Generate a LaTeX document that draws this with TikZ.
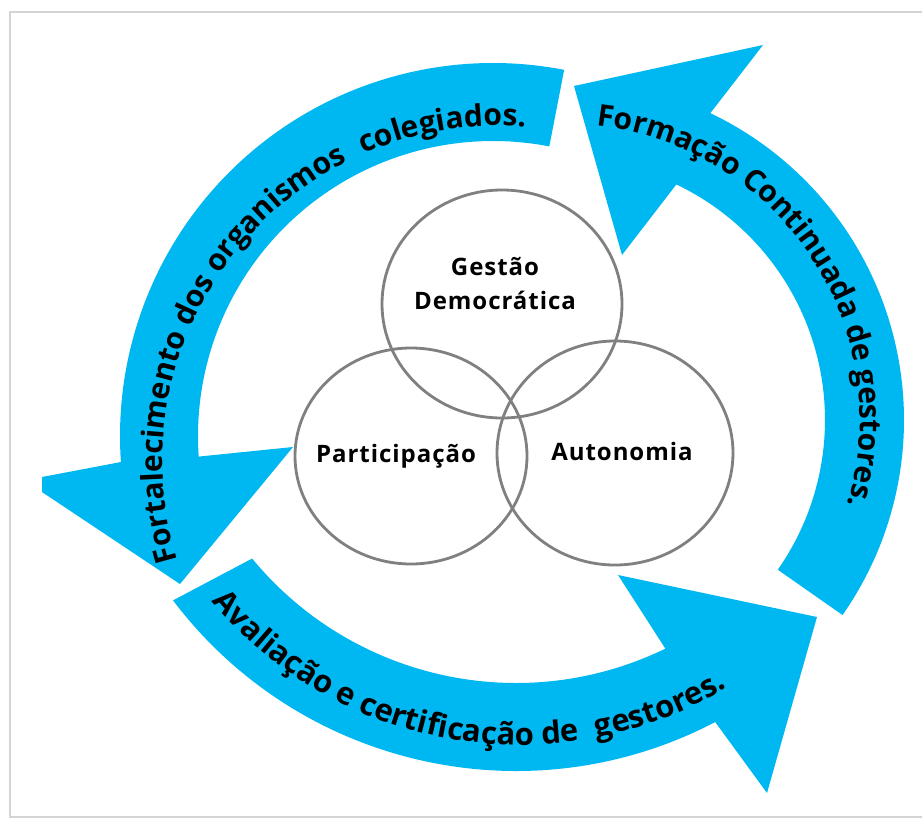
\documentclass[tikz,border=0pt]{standalone}
\usepackage{fontspec}
\setmainfont{Open Sans}
\usetikzlibrary{decorations.text,shapes.geometric}
\definecolor{arrowblue}{RGB}{0,184,241}
\definecolor{ringgray}{RGB}{128,128,128}
\definecolor{framegray}{RGB}{212,212,212}
\newcommand\arwfont{\bfseries\fontsize{30}{31}\selectfont}
\newcommand\arwfontb{\bfseries\fontsize{31}{32}\selectfont}
\newcommand\lblfont{\bfseries\fontsize{24}{34}\selectfont\addfontfeatures{LetterSpace=4}}
\begin{document}
\begin{tikzpicture}[x=1pt,y=-1pt,
  band/.style={fill=arrowblue,draw=none},
  ring/.style={draw=ringgray,line width=2.8pt,ellipse,inner sep=0pt},
  lbl/.style={font=\lblfont,align=center,inner sep=0pt},
  arwtext/.style={decorate,decoration={text along path,text align=center,text={|\arwfont|#1}}},
  arwtextb/.style={decorate,decoration={text along path,text align=center,text={|\arwfontb|#1}}}
]
\useasboundingbox (0,0) rectangle (922,820);
\clip (0,0) rectangle (922,820);
\fill[white] (0,0) rectangle (922,820);
\draw[framegray,line width=2pt] (10,12) rectangle (940,817);

% arc centres
\coordinate (cL) at (493,436);
\coordinate (cR) at (564,420);
\coordinate (cB) at (516,341);
\coordinate (tL) at (498.5,461.7);
\coordinate (tR) at (564,420);
\coordinate (tB) at (520,342);

% left arrow
\fill[band] ([shift={(281:373)}]cL) arc[start angle=281,end angle=176,radius=373]
  -- (42,477) -- (42,492) -- (180,584) -- (293,447)
  -- ([shift={(176:295)}]cL) arc[start angle=176,end angle=281,radius=295] -- cycle;
% right arrow
\fill[band] ([shift={(35:340)}]cR) arc[start angle=35,end angle=-64.5,radius=340]
  -- (763,45) -- (574,86) -- (622,255)
  -- ([shift={(-64.5:261)}]cR) arc[start angle=-64.5,end angle=35,radius=261] -- cycle;
% bottom arrow
\fill[band] ([shift={(142.9:430)}]cB) arc[start angle=142.9,end angle=62.4,radius=430]
  -- (767,793) -- (817,617) -- (618,575)
  -- ([shift={(64.1:342)}]cB) arc[start angle=64.1,end angle=140.5,radius=342] -- cycle;

% texts on arrows
\path[arwtext={Fortalecimento dos organismos {\hspace{0.3em}}colegiados.}]
  ([shift={(138.8:336)}]tL) arc[start angle=138.8,end angle=298.8,radius=336];
\path[arwtext={Formação Continuada de gestores.}]
  ([shift={(-113.5:296)}]tR) arc[start angle=-113.5,end angle=46.5,radius=296];
\path[arwtextb={Avaliação e certificação de {\hspace{0.3em}}gestores.}]
  ([shift={(179.45:403)}]tB) arc[start angle=179.45,end angle=19.45,radius=403];

% circles
\node[ring,minimum width=240pt,minimum height=228pt] (gestao) at (502,304) {};
\node[ring,minimum width=232pt,minimum height=216pt] (particip) at (411,456) {};
\node[ring,minimum width=236pt,minimum height=224pt] (autonom) at (615,453) {};

\node[lbl] (lg) at (495,284) {Gestão\\Democrática};
\node[lbl] (lp) at (396,456) {Participação};
\node[lbl] (la) at (622,451) {Autonomia};
\end{tikzpicture}
\end{document}
